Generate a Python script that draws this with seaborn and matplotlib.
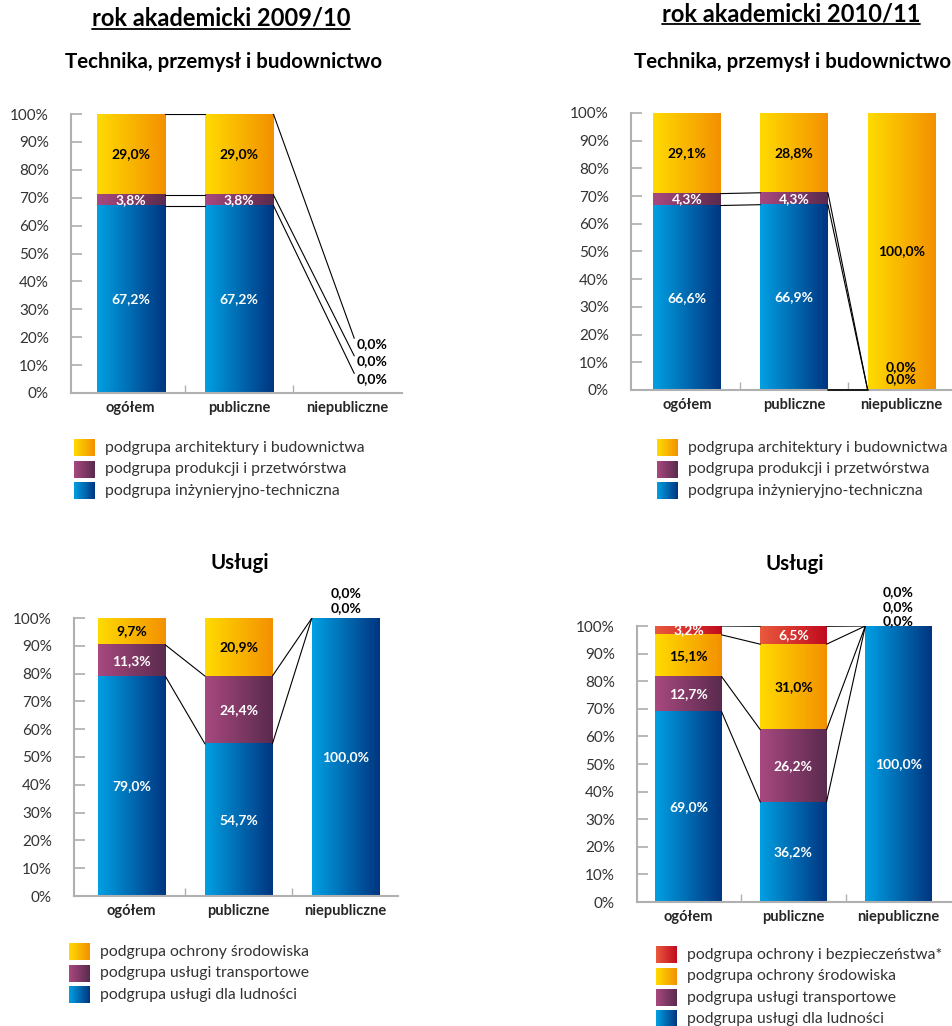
import numpy as np
import pandas as pd
import seaborn as sns
import matplotlib.pyplot as plt
from matplotlib.colors import LinearSegmentedColormap

sns.set_theme(style='white')
plt.rcParams['font.family'] = ['Lato', 'DejaVu Sans']

# kategorie uczelni
kategorie = ['ogółem', 'publiczne', 'niepubliczne']

# Technika, przemysł i budownictwo 2009/10 (od dołu)
tech0910_inz = [67.2, 67.2, 0.0]
tech0910_prod = [3.8, 3.8, 0.0]
tech0910_arch = [29.0, 29.0, 0.0]
# Technika, przemysł i budownictwo 2010/11
tech1011_inz = [66.6, 66.9, 0.0]
tech1011_prod = [4.3, 4.3, 0.0]
tech1011_arch = [29.1, 28.8, 100.0]
# Usługi 2009/10
usl0910_ludn = [79.0, 54.7, 100.0]
usl0910_trans = [11.3, 24.4, 0.0]
usl0910_srod = [9.7, 20.9, 0.0]
# Usługi 2010/11
usl1011_ludn = [69.0, 36.2, 100.0]
usl1011_trans = [12.7, 26.2, 0.0]
usl1011_srod = [15.1, 31.0, 0.0]
usl1011_bezp = [3.2, 6.5, 0.0]

leg_tech = ['podgrupa architektury i budownictwa',
            'podgrupa produkcji i przetwórstwa',
            'podgrupa inżynieryjno-techniczna']
leg_usl0910 = ['podgrupa ochrony środowiska',
               'podgrupa usługi transportowe',
               'podgrupa usługi dla ludności']
leg_usl1011 = ['podgrupa ochrony i bezpieczeństwa*'] + leg_usl0910

# gradienty (lewa -> prawa krawędź słupka)
niebieski = ('#00a0e3', '#003580')
fiolet = ('#a8497f', '#5a2a4e')
zolty = ('#ffdb00', '#f39000')
czerwony = ('#ea5a3d', '#c00a1e')

W, H = 953, 1026
fig = plt.figure(figsize=(W / 100, H / 100), dpi=100)
tlo = fig.add_axes([0, 0, 1, 1])
tlo.set_xlim(0, W)
tlo.set_ylim(H, 0)
tlo.axis('off')

grad = np.linspace(0, 1, 256).reshape(1, -1)


def gradient(ax, x0, x1, y0, y1, kol, z):
    cmap = LinearSegmentedColormap.from_list('g', kol)
    ax.imshow(grad, cmap=cmap, extent=(x0, x1, y0, y1), aspect='auto',
              zorder=z, interpolation='bilinear')


def fmt(v):
    return f'{v:.1f}'.replace('.', ',') + '%'


def panel(rect, warstwy, xlim, pomin_gore, z0, zkrok, zdx, linia_dol=False):
    ax = fig.add_axes(rect)
    szer = 0.63
    cums = np.cumsum([np.array(w[0]) for w in warstwy], axis=0)
    n = len(warstwy)
    # od najwyższej warstwy skumulowanej w dół
    for k in reversed(range(n)):
        przed = len(ax.patches)
        sns.barplot(x=kategorie, y=cums[k], ax=ax, width=szer,
                    color=warstwy[k][1][0], errorbar=None)
        for p in ax.patches[przed:]:
            p.set_visible(False)
            if p.get_height() > 0:
                gradient(ax, p.get_x(), p.get_x() + p.get_width(), 0,
                         p.get_height(), warstwy[k][1], 2 + (n - k) * 0.1)
    # etykiety
    zera = {}
    for i in range(3):
        j = 0
        for k in range(n):
            v = warstwy[k][0][i]
            if v > 0:
                ax.text(i, cums[k][i] - v / 2, fmt(v), ha='center', va='center',
                        fontsize=10, fontweight='bold', color=warstwy[k][2],
                        zorder=5)
            else:
                y = cums[k][i] + z0 + zkrok * j
                zera[(k, i)] = y
                ax.text(i + zdx, y, fmt(v), ha='left' if zdx else 'center',
                        va='center', fontsize=10, fontweight='bold',
                        color='black', zorder=5)
                j += 1
    # linie łączące
    for k in range(n):
        if pomin_gore and k == n - 1:
            continue
        for i in range(2):
            x0, y0 = i + szer / 2, cums[k][i]
            if cums[-1][i + 1] == 0:
                x1, y1 = i + 1 + zdx - 0.02, zera[(k, i + 1)] + 2
            else:
                x1, y1 = i + 1 - szer / 2, cums[k][i + 1]
            ax.plot([x0, x1], [y0, y1], color='black', lw=0.8, zorder=4)
    if linia_dol:
        ax.plot([1 + szer / 2, 2 - szer / 2], [0, 0], color='black', lw=1.2,
                zorder=4, clip_on=False)
    ax.set_xlim(*xlim)
    ax.set_ylim(0, 100)
    ax.set_yticks(range(0, 101, 10))
    ax.set_yticklabels([f'{t}%' for t in range(0, 101, 10)])
    ax.set_xticks([0.5, 1.5], minor=True)
    ax.tick_params(axis='y', direction='in', length=8, color='#b0b0b0',
                   labelsize=11, labelcolor='#333333', left=True, pad=16)
    ax.tick_params(axis='x', which='major', length=0, labelsize=10.5, pad=6)
    ax.tick_params(axis='x', which='minor', direction='in', length=6,
                   color='#b0b0b0', bottom=True)
    for lab in ax.get_xticklabels():
        lab.set_fontweight('bold')
    for s in ['top', 'right']:
        ax.spines[s].set_visible(False)
    for s in ['left', 'bottom']:
        ax.spines[s].set_color('#b0b0b0')
        ax.spines[s].set_linewidth(1.5)
    ax.set_xlabel('')
    ax.set_ylabel('')
    return ax


def px(l, r, t, b):
    return [l / W, 1 - b / H, (r - l) / W, (b - t) / H]


panel(px(71, 402, 114, 393),
      [(tech0910_inz, niebieski, 'white'), (tech0910_prod, fiolet, 'white'),
       (tech0910_arch, zolty, 'black')],
      (-0.55, 2.5), False, 5.0, 6.3, 0.08)
panel(px(631, 953, 113, 390),
      [(tech1011_inz, niebieski, 'white'), (tech1011_prod, fiolet, 'white'),
       (tech1011_arch, zolty, 'black')],
      (-0.52, 2.48), True, 4.0, 4.3, 0, linia_dol=True)
panel(px(74, 398, 618, 896),
      [(usl0910_ludn, niebieski, 'white'), (usl0910_trans, fiolet, 'white'),
       (usl0910_srod, zolty, 'black')],
      (-0.54, 2.49), True, 3.6, 5.4, 0)
panel(px(637, 953, 626, 902),
      [(usl1011_ludn, niebieski, 'white'), (usl1011_trans, fiolet, 'white'),
       (usl1011_srod, zolty, 'black'), (usl1011_bezp, czerwony, 'white')],
      (-0.49, 2.52), False, 1.8, 5.2, 0)

# tytuły
fig.canvas.draw()
for x, y, txt in [(221, 26, 'rok akademicki 2009/10'),
                  (791, 21, 'rok akademicki 2010/11')]:
    t = tlo.text(x, y, txt, ha='center', va='baseline', fontsize=17,
                 fontweight='bold', color='black')
    bb = t.get_window_extent(renderer=fig.canvas.get_renderer())
    tlo.plot([bb.x0, bb.x1], [y + 3, y + 3], color='black', lw=1.3)
for x, y, txt in [(224, 68, 'Technika, przemysł i budownictwo'),
                  (793, 68, 'Technika, przemysł i budownictwo'),
                  (240, 569, 'Usługi'), (795, 570, 'Usługi')]:
    tlo.text(x, y, txt, ha='center', va='baseline', fontsize=14.8,
             fontweight='bold', color='black')

# legendy
for sx, sy, etyk, kol in [
        (74, 448, leg_tech, [zolty, fiolet, niebieski]),
        (657, 448, leg_tech, [zolty, fiolet, niebieski]),
        (69, 952, leg_usl0910, [zolty, fiolet, niebieski]),
        (656, 955, leg_usl1011, [czerwony, zolty, fiolet, niebieski])]:
    for j, (e, c) in enumerate(zip(etyk, kol)):
        y = sy + 21.3 * j
        gradient(tlo, sx, sx + 21, y + 8.5, y - 8.5, c, 2)
        tlo.text(sx + 31, y, e, ha='left', va='center', fontsize=11.3,
                 color='#333333')
tlo.set_xlim(0, W)
tlo.set_ylim(H, 0)

fig.savefig('out.png', dpi=100)
